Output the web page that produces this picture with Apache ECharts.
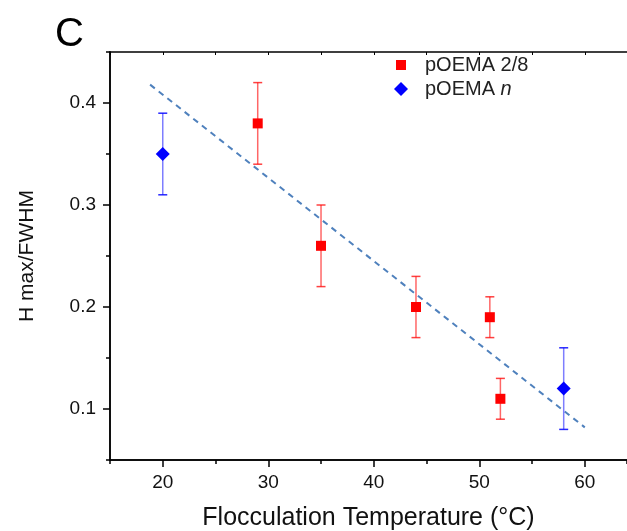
<!DOCTYPE html>
<html><head><meta charset="utf-8">
<script src="https://cdn.jsdelivr.net/npm/echarts@6/dist/echarts.min.js"></script>
<style>html,body{margin:0;padding:0;background:#fff}#c{width:627px;height:531px}</style>
</head><body><div id="c"></div>
<script>
// Data
const redName = 'pOEMA 2/8';
const blueName = 'pOEMA n';
const redX = [29, 35, 44, 51, 52];
const redY = [0.38, 0.26, 0.20, 0.19, 0.11];
const redLow = [0.34, 0.22, 0.17, 0.17, 0.09];
const redHigh = [0.42, 0.30, 0.23, 0.21, 0.13];
const blueX = [20, 58];
const blueY = [0.35, 0.12];
const blueLow = [0.31, 0.08];
const blueHigh = [0.39, 0.16];
const fitX = [18.8, 60];
const fitY = [0.418, 0.082];
// Tick labels
const xMajorTicks = [20, 30, 40, 50, 60];
const yMajorTicks = [0.1, 0.2, 0.3, 0.4];

const FONT = 'Liberation Sans, Arial, sans-serif';
const chart = echarts.init(document.getElementById('c'));

function errBars(color, capColor) {
  return function (params, api) {
    const x = api.value(0), lo = api.value(1), hi = api.value(2);
    const a = api.coord([x, lo]), b = api.coord([x, hi]);
    const w = 4.5;
    return {type: 'group', children: [
      {type: 'line', shape: {x1: a[0], y1: a[1], x2: b[0], y2: b[1]}, style: {stroke: color, lineWidth: 1.5}},
      {type: 'line', shape: {x1: a[0]-w, y1: a[1], x2: a[0]+w, y2: a[1]}, style: {stroke: capColor, lineWidth: 1.5}},
      {type: 'line', shape: {x1: b[0]-w, y1: b[1], x2: b[0]+w, y2: b[1]}, style: {stroke: capColor, lineWidth: 1.5}}
    ]};
  };
}

const axisLine = {show: true, onZero: false, lineStyle: {color: '#000', width: 1.5}};
const tickStyle = {color: '#000', width: 1.5};
const XMIN = 15, XMAX = 64, YMIN = 0.05, YMAX = 0.45;

chart.setOption({
  animation: false,
  backgroundColor: '#fff',
  title: {text: 'C', left: 50, top: 10, textStyle: {fontFamily: FONT, fontSize: 40, fontWeight: 'normal', color: '#000'}},
  grid: {left: 110, right: 0, top: 52, bottom: 71, containLabel: false, outerBoundsMode: 'none'},
  legend: [
    {data: [{name: redName, icon: 'rect'}], left: 391, top: 50, itemWidth: 10, itemHeight: 10, itemGap: 0,
     textStyle: {fontFamily: FONT, fontSize: 20, color: '#222', padding: [0, 0, 0, 14]}},
    {data: [{name: blueName, icon: 'diamond'}], left: 389, top: 74, itemWidth: 14, itemHeight: 14, itemGap: 0,
     formatter: function () { return 'pOEMA {i|n}'; },
     textStyle: {fontFamily: FONT, fontSize: 20, color: '#222', padding: [0, 0, 0, 12],
       rich: {i: {fontFamily: FONT, fontSize: 20, fontStyle: 'italic', color: '#222'}}}}
  ],
  xAxis: [
    {type: 'value', min: XMIN, max: XMAX, position: 'bottom',
     name: 'Flocculation Temperature (°C)', nameLocation: 'middle', nameGap: 46,
     nameTextStyle: {fontFamily: FONT, fontSize: 25, color: '#111'},
     axisLine: axisLine, axisTick: {show: true, length: 7, customValues: xMajorTicks, lineStyle: tickStyle},
     axisLabel: {fontFamily: FONT, fontSize: 19, color: '#111', margin: 13, customValues: xMajorTicks},
     splitLine: {show: false}},
    {type: 'value', min: XMIN, max: XMAX, interval: 5, position: 'bottom',
     axisLine: axisLine, axisTick: {show: true, length: 4, lineStyle: tickStyle},
     axisLabel: {show: false}, splitLine: {show: false}},
    {type: 'value', min: XMIN, max: XMAX, interval: 5, position: 'top',
     axisLine: axisLine, axisTick: {show: true, inside: true, length: 3, lineStyle: {color: '#000', width: 1}},
     axisLabel: {show: false}, splitLine: {show: false}}
  ],
  yAxis: [
    {type: 'value', min: YMIN, max: YMAX, position: 'left',
     name: 'H max/FWHM', nameLocation: 'middle', nameGap: 72,
     nameTextStyle: {fontFamily: FONT, fontSize: 21, color: '#111'},
     axisLine: axisLine, axisTick: {show: true, length: 7, customValues: yMajorTicks, lineStyle: tickStyle},
     axisLabel: {fontFamily: FONT, fontSize: 19, color: '#111', margin: 14, customValues: yMajorTicks,
       formatter: function (v) { return v.toFixed(1); }},
     splitLine: {show: false}},
    {type: 'value', min: YMIN, max: YMAX, interval: 0.05, position: 'left',
     axisLine: axisLine, axisTick: {show: true, length: 4, lineStyle: tickStyle},
     axisLabel: {show: false}, splitLine: {show: false}}
  ],
  series: [
    {type: 'line', data: fitX.map((x, i) => [x, fitY[i]]), symbol: 'none',
     lineStyle: {color: '#4f81bd', width: 2, type: [6, 5]}, silent: true, z: 1},
    {type: 'custom', renderItem: errBars('rgba(255,0,0,0.6)', 'rgba(255,0,0,0.75)'),
     data: redX.map((x, i) => [x, redLow[i], redHigh[i]]), z: 2},
    {type: 'custom', renderItem: errBars('rgba(40,40,255,0.6)', 'rgba(0,0,255,0.85)'),
     data: blueX.map((x, i) => [x, blueLow[i], blueHigh[i]]), z: 2},
    {name: redName, type: 'scatter', symbol: 'rect', symbolSize: 10,
     itemStyle: {color: '#ff0000', opacity: 1}, data: redX.map((x, i) => [x, redY[i]]), z: 3},
    {name: blueName, type: 'scatter', symbol: 'diamond', symbolSize: 14,
     itemStyle: {color: '#0000ff', opacity: 1}, data: blueX.map((x, i) => [x, blueY[i]]), z: 3}
  ]
});
</script></body></html>
